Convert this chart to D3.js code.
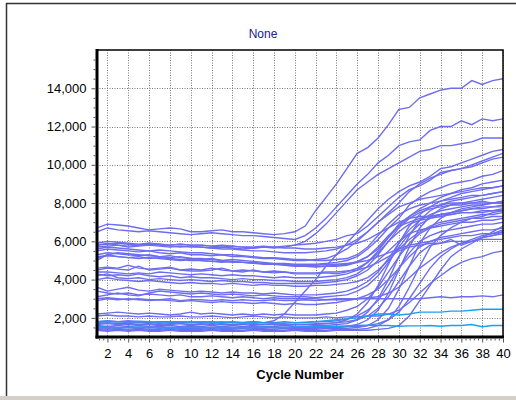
<!DOCTYPE html>
<html lang="en">
<head>
<meta charset="UTF-8">
<title>None - amplification plot</title>
<script src="https://d3js.org/d3.v7.min.js"></script>
<style>
  body { margin: 0; background: #fff; font-family: "Liberation Sans", Arial, sans-serif; }
  svg { display: block; }
</style>
</head>
<body>
<div id="chart"></div>
<script>
// cycles and axis ticks
const cycles = [1,2,3,4,5,6,7,8,9,10,11,12,13,14,15,16,17,18,19,20,21,22,23,24,25,26,27,28,29,30,31,32,33,34,35,36,37,38,39,40];
const xTicks = [2,4,6,8,10,12,14,16,18,20,22,24,26,28,30,32,34,36,38,40];
const yTicks = [2000,4000,6000,8000,10000,12000,14000];

// fluorescence per cycle, one array per well
const s01 = [6700,6900,6850,6800,6700,6600,6650,6700,6650,6500, 6500,6550,6600,6500,6500,6450,6400,6350,6400,6500, 6800,7600,8300,9000,9800,10600,10900,11400,12100,12900, 13000,13500,13700,13900,14000,14000,14400,14200,14400,14500];
const s02 = [6500,6700,6600,6550,6500,6550,6500,6450,6400,6350, 6400,6450,6400,6350,6300,6300,6250,6200,6150,6100, 6300,6700,7200,7800,8400,9000,9500,10100,10500,11000, 11200,11300,11800,12000,12000,12300,12100,12400,12300,12400];
const s03 = [5900,6000,5950,5900,5850,5900,5850,5800,5850,5800, 5800,5750,5700,5750,5700,5650,5700,5650,5700,5800, 6000,6400,6900,7500,8100,8700,9100,9500,9800,10100, 10400,10700,10800,11000,11000,11100,11200,11400,11400,11400];
const s04 = [1800,1850,1800,1850,1800,1750,1800,1800,1750,1800, 1750,1800,1750,1800,1750,1800,1750,1850,2200,2800, 3400,4000,4700,5300,5900,6500,7100,7700,8200,8600, 8900,9100,9400,9800,9900,10100,10300,10500,10700,10800];
const s05 = [5700,5750,5800,5700,5750,5800,5750,5700,5750,5700, 5700,5650,5700,5650,5600,5650,5700,5700,5750,5800, 5850,5900,6000,6100,6300,6400,6800,7300,7800,8300, 8700,8900,9200,9600,9700,9800,10000,10200,10400,10600];
const s06 = [5500,5600,5550,5500,5450,5500,5400,5350,5400,5300, 5300,5250,5300,5200,5200,5150,5100,5100,5050,5000, 5000,5050,5100,5300,5600,6000,6500,7000,7500,8000, 8600,9000,9300,9500,9700,9800,9900,10100,10300,10400];
const s07 = [5300,5400,5350,5300,5250,5300,5200,5150,5200,5100, 5100,5050,5000,5050,5000,4950,4900,4850,4850,4800, 4800,4800,4850,4900,5000,5200,5600,6100,6700,7200, 7900,8300,8600,8800,9000,9100,9200,9400,9500,9700];
const s08 = [5000,5300,5400,5350,5300,5250,5200,5250,5150,5100, 5050,5100,5000,4950,4900,4900,4850,4800,4800,4750, 4750,4700,4700,4750,4800,4950,5200,5600,6200,6800, 7300,7700,8000,8300,8500,8700,8800,9000,9100,9200];
const s09 = [5800,5900,5800,5750,5800,5850,5800,5750,5700,5750, 5700,5650,5600,5600,5550,5500,5500,5450,5400,5400, 5400,5450,5500,5600,5800,6100,6500,7000,7400,7800, 8000,8200,8300,8400,8500,8600,8700,8800,8800,8900];
const s10 = [5600,5700,5650,5600,5550,5500,5550,5500,5450,5400, 5400,5350,5300,5300,5250,5200,5150,5150,5100,5050, 5050,5000,5000,5050,5100,5300,5700,6300,6900,7400, 7700,7900,8000,8100,8200,8300,8400,8400,8500,8600];
const s11 = [5200,5250,5200,5150,5200,5100,5150,5100,5050,5000, 5000,4950,4950,4900,4900,4850,4800,4800,4750,4700, 4700,4650,4700,4700,4750,4900,5200,5700,6300,6800, 7000,7200,7300,7400,7500,7600,7700,7800,7800,7900];
const s12 = [4500,4600,4550,4500,4700,4500,4550,4600,4500,4450, 4450,4500,4600,4450,4400,4500,4400,4350,4400,4300, 4300,4300,4350,4300,4400,4600,4900,5500,6200,6900, 7300,7600,7800,7900,8000,8000,8000,8100,8000,8100];
const s13 = [4400,4400,4350,4300,4350,4300,4400,4350,4300,4250, 4300,4250,4200,4250,4200,4200,4150,4100,4150,4100, 4100,4100,4150,4200,4300,4500,4900,5400,6000,6500, 6900,7100,7200,7300,7400,7500,7500,7600,7600,7700];
const s14 = [4300,4200,4250,4200,4300,4200,4150,4200,4100,4150, 4100,4100,4050,4000,4050,4000,4000,3950,3950,3900, 3900,3900,3950,4000,4100,4300,4700,5300,6000,6700, 7200,7500,7700,7800,7900,7900,8000,8000,8000,8000];
const s15 = [4200,4300,4100,4050,4100,4000,4050,4000,3950,4000, 3950,3900,3950,3900,3900,3850,3850,3800,3800,3800, 3800,3800,3850,3900,4000,4200,4500,5000,5500,6000, 6400,6600,6700,6800,6900,7000,7000,7100,7100,7200];
const s16 = [4000,4100,4000,3950,3900,3950,3900,3850,3800,3850, 3800,3800,3750,3800,3750,3700,3750,3700,3700,3650, 3650,3700,3700,3750,3800,3900,4100,4500,5000,5600, 6100,6500,6800,7000,7100,7200,7300,7400,7400,7500];
const s17 = [3600,3400,3500,3600,3450,3400,3500,3450,3400,3350, 3400,3350,3300,3350,3300,3300,3250,3300,3250,3200, 3200,3200,3250,3300,3400,3600,3900,4400,5100,5900, 6600,7100,7400,7600,7700,7800,7900,7900,8000,8000];
const s18 = [3100,3200,3300,3200,3150,3300,3400,3350,3300,3250, 3300,3250,3200,3250,3200,3150,3200,3150,3100,3100, 3100,3050,3100,3150,3200,3400,3700,4200,4900,5700, 6400,6900,7200,7400,7500,7600,7700,7700,7800,7800];
const s19 = [3000,3050,3000,2950,3000,2950,2950,3000,2900,2950, 2950,2900,2950,2900,2950,2900,2900,2950,2900,2900, 2950,2900,2950,2950,2950,3000,3000,3000,3000,3000, 3000,3000,3050,3100,3050,3100,3100,3150,3100,3200];
const s20 = [2900,3000,2950,3000,2950,2900,2950,2900,2850,2900, 2850,2800,2850,2800,2800,2750,2800,2750,2700,2750, 2700,2700,2750,2800,2900,3000,3200,3500,4000,4600, 5200,5700,6000,6200,6300,6400,6500,6600,6600,6700];
const s21 = [3400,3300,3250,3300,3200,3250,3200,3150,3200,3100, 3100,3150,3100,3050,3100,3050,3000,3050,3000,3000, 3000,3000,2950,3000,3000,3000,3050,3100,3300,3600, 4100,4600,5000,5400,5700,5900,6000,6200,6300,6400];
const s22 = [2200,2250,2300,2250,2200,2250,2200,2150,2200,2300, 2200,2250,2200,2150,2200,2150,2200,2150,2200,2150, 2150,2150,2200,2250,2400,2600,3000,3600,4400,5200, 5900,6400,6700,6900,7000,7100,7200,7200,7300,7300];
const s23 = [2100,2150,2100,2100,2050,2100,2050,2050,2100,2050, 2050,2100,2050,2000,2050,2100,2050,2000,2050,2000, 2000,2000,2050,2000,2050,2050,2100,2100,2200,2400, 2800,3300,3800,4200,4600,4900,5100,5200,5400,5500];
const s24 = [1700,1750,1700,1700,1750,1700,1650,1700,1700,1650, 1700,1650,1700,1650,1650,1700,1650,1650,1600,1650, 1650,1650,1700,1750,1900,2200,2800,3700,4800,5900, 6800,7400,7800,8100,8300,8500,8600,8700,8800,8900];
const s25 = [1600,1550,1600,1650,1600,1550,1600,1600,1550,1600, 1550,1600,1550,1600,1550,1600,1550,1550,1600,1550, 1550,1600,1600,1650,1700,1900,2300,3000,4000,5200, 6300,7100,7600,7900,8100,8200,8300,8400,8500,8600];
const s26 = [1500,1450,1500,1500,1450,1500,1450,1500,1450,1450, 1450,1500,1450,1450,1500,1450,1450,1500,1450,1450, 1450,1450,1500,1500,1550,1650,1900,2400,3300,4500, 5700,6700,7300,7700,7900,8000,8100,8200,8300,8400];
const s27 = [1450,1400,1450,1400,1450,1400,1400,1450,1400,1400, 1400,1450,1400,1400,1450,1400,1400,1400,1450,1400, 1400,1400,1450,1450,1450,1500,1600,1900,2500,3500, 4700,5900,6700,7200,7500,7700,7800,7900,8000,8100];
const s28 = [1400,1350,1400,1350,1400,1350,1350,1400,1350,1350, 1350,1400,1350,1350,1350,1400,1350,1350,1350,1400, 1350,1350,1350,1400,1400,1400,1450,1600,1900,2600, 3600,4700,5700,6300,6700,7000,7200,7300,7500,7600];
const s29 = [1350,1300,1350,1300,1350,1300,1300,1350,1300,1300, 1300,1350,1300,1300,1300,1350,1300,1300,1300,1350, 1300,1300,1300,1350,1350,1350,1350,1400,1450,1600, 2100,2900,3700,4500,5200,5600,5900,6200,6500,6800];
const s30 = [1500,1550,1500,1550,1500,1500,1550,1500,1500,1550, 1500,1500,1550,1500,1500,1550,1500,1500,1500,1500, 1500,1500,1500,1500,1550,1550,1600,1700,1900,2300, 3000,3800,4600,5200,5600,5900,6100,6300,6400,6600];
const s31 = [1650,1700,1650,1700,1650,1650,1700,1650,1700,1650, 1650,1700,1650,1650,1700,1650,1650,1700,1650,1650, 1650,1700,1700,1750,1800,1900,2100,2500,3100,3900, 4700,5400,5800,5900,6100,5800,6000,6200,6300,6500];
const s32 = [1750,1800,1800,1750,1800,1750,1800,1750,1800,1750, 1800,1750,1800,1750,1750,1800,1750,1750,1800,1750, 1750,1800,1800,1850,1950,2100,2400,2900,3700,4600, 5400,6000,6300,6500,6600,6700,6800,6900,6900,7000];
const s33 = [5800,5850,5900,5850,5800,5900,5850,5800,5850,5800, 5800,5750,5800,5750,5700,5700,5750,5700,5650,5650, 5600,5600,5650,5700,5800,5900,6100,6400,6700,7000, 7200,7300,7300,7400,7400,7500,7500,7500,7600,7600];
const s34 = [4600,4650,4600,4750,4600,4550,4600,4650,4500,4550, 4500,4600,4500,4450,4500,4450,4400,4450,4400,4350, 4350,4350,4400,4400,4450,4500,4650,4900,5200,5500, 5700,5800,5900,5900,6000,6000,6000,6100,6100,6100];
const s35 = [5100,5300,5200,5150,5100,5150,5100,5050,5000,5050, 5000,4950,4900,4950,4900,4850,4850,4800,4800,4750, 4750,4750,4800,4800,4850,4900,5000,5200,5400,5600, 5800,5900,6000,6100,6200,6300,6300,6400,6400,6500];
// the two cyan wells
const c01 = [1800,1820,1800,1800,1820,1800,1780,1800,1800,1780, 1800,1780,1750,1780,1760,1750,1750,1720,1720,1750, 1780,1800,1850,1900,1950,2000,2100,2200,2200,2150, 2200,2300,2300,2300,2350,2350,2400,2450,2450,2450];
const c02 = [1550,1500,1480,1500,1520,1500,1480,1500,1480,1500, 1500,1480,1500,1500,1480,1500,1520,1500,1500,1520, 1520,1540,1550,1560,1580,1600,1620,1600,1600,1560, 1580,1580,1600,1560,1600,1600,1650,1540,1600,1600];

const purpleWells = [s01,s02,s03,s04,s05,s06,s07,s08,s09,s10,s11,s12,s13,s14,s15,s16,s17,s18,s19,s20,
                     s21,s22,s23,s24,s25,s26,s27,s28,s29,s30,s31,s32,s33,s34,s35];
const cyanWells = [c01, c02];

const W = 516, H = 400;
const m = {left: 97, right: 503, top: 50, bottom: 337};

const svg = d3.select("#chart").append("svg").attr("width", W).attr("height", H);
svg.append("rect").attr("width", W).attr("height", H).attr("fill", "#fff");

// panel frame like the original window
svg.append("line").attr("x1", 6).attr("x2", W).attr("y1", 3.5).attr("y2", 3.5).attr("stroke", "#333").attr("stroke-width", 1.5);
svg.append("line").attr("x1", 6.5).attr("x2", 6.5).attr("y1", 3).attr("y2", 396).attr("stroke", "#333").attr("stroke-width", 1.5);
svg.append("rect").attr("x", 0).attr("y", 396).attr("width", W).attr("height", 4).attr("fill", "#d4d0c8");

const x = d3.scaleLinear().domain([1, 40]).range([m.left, m.right]);
const y = d3.scaleLinear().domain([1000, 16000]).range([m.bottom, m.top]);

// grid
const grid = svg.append("g").attr("stroke", "#7a7a7a").attr("stroke-width", 1).attr("stroke-dasharray", "1,1.5");
grid.selectAll(".vg").data(xTicks).enter().append("line")
  .attr("x1", d => Math.round(x(d)) + 0.5).attr("x2", d => Math.round(x(d)) + 0.5)
  .attr("y1", m.top).attr("y2", m.bottom);
grid.selectAll(".hg").data(yTicks).enter().append("line")
  .attr("x1", m.left).attr("x2", m.right)
  .attr("y1", d => Math.round(y(d)) + 0.5).attr("y2", d => Math.round(y(d)) + 0.5);

// curves
svg.append("clipPath").attr("id", "clip").append("rect")
  .attr("x", m.left).attr("y", m.top).attr("width", m.right - m.left).attr("height", m.bottom - m.top);

const line = d3.line().x((d, i) => x(cycles[i])).y(d => y(d));
const plot = svg.append("g").attr("clip-path", "url(#clip)").attr("fill", "none").attr("stroke-width", 1.4);
plot.selectAll(".p").data(purpleWells).enter().append("path")
  .attr("d", line).attr("stroke", "#6d6df0");
plot.selectAll(".c").data(cyanWells).enter().append("path")
  .attr("d", line).attr("stroke", "#1a9ff2");

// frame of the plot
svg.append("rect").attr("x", m.left).attr("y", m.top).attr("width", m.right - m.left).attr("height", m.bottom - m.top)
  .attr("fill", "none").attr("stroke", "#000").attr("stroke-width", 1.5);
svg.append("line").attr("x1", m.left).attr("x2", m.left).attr("y1", m.top - 1).attr("y2", m.bottom + 1.5)
  .attr("stroke", "#000").attr("stroke-width", 3);
svg.append("line").attr("x1", m.left - 1.5).attr("x2", m.right + 1).attr("y1", m.bottom).attr("y2", m.bottom)
  .attr("stroke", "#000").attr("stroke-width", 3);

// y axis
const yAxis = svg.append("g").attr("transform", `translate(${m.left - 1.5},0)`)
  .call(d3.axisLeft(y).tickValues(yTicks).tickSize(4).tickPadding(5).tickFormat(d3.format(",")));
yAxis.select(".domain").remove();
yAxis.selectAll("text").attr("font-family", "Liberation Sans, Arial, sans-serif").attr("font-size", 13).attr("fill", "#000");
yAxis.selectAll("line").attr("stroke", "#555");
svg.append("g").attr("transform", `translate(${m.left - 1.5},0)`)
  .call(d3.axisLeft(y).tickValues(d3.range(1500, 16000, 500).filter(v => v % 2000 !== 0)).tickSize(2).tickFormat(""))
  .call(g => g.select(".domain").remove())
  .selectAll("line").attr("stroke", "#555");

// x axis
const xAxis = svg.append("g").attr("transform", `translate(0,${m.bottom + 1.5})`)
  .call(d3.axisBottom(x).tickValues(xTicks).tickSize(4).tickPadding(6));
xAxis.select(".domain").remove();
xAxis.selectAll("text").attr("font-family", "Liberation Sans, Arial, sans-serif").attr("font-size", 13).attr("fill", "#000");
xAxis.selectAll("line").attr("stroke", "#555");
svg.append("g").attr("transform", `translate(0,${m.bottom + 1.5})`)
  .call(d3.axisBottom(x).tickValues(d3.range(1.2, 40, 0.4).filter(v => Math.abs(v / 2 - Math.round(v / 2)) > 0.01)).tickSize(2).tickFormat(""))
  .call(g => g.select(".domain").remove())
  .selectAll("line").attr("stroke", "#555");

// titles
svg.append("text").attr("x", 263).attr("y", 38).attr("text-anchor", "middle")
  .attr("font-family", "Liberation Sans, Arial, sans-serif").attr("font-size", 12).attr("fill", "#20208c").text("None");
svg.append("text").attr("x", 300).attr("y", 379).attr("text-anchor", "middle")
  .attr("font-family", "Liberation Sans, Arial, sans-serif").attr("font-size", 13).attr("font-weight", "bold").attr("fill", "#000")
  .text("Cycle Number");
</script>
</body>
</html>
